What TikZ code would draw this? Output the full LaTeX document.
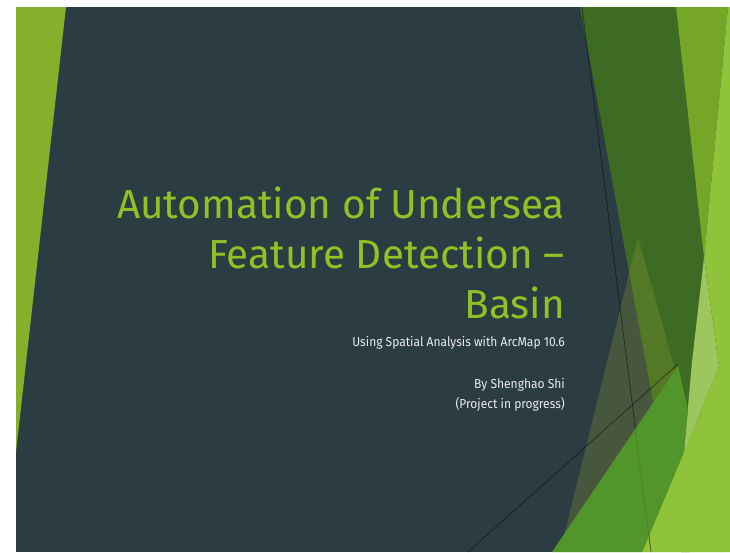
\documentclass[tikz,border=0pt]{standalone}
\usepackage{fontspec}
\setmainfont{Fira Sans}
\newfontfamily\subfont[FakeStretch=0.925]{Fira Sans}
\usepackage{tikz}
\usetikzlibrary{positioning}

\definecolor{slatebg}{HTML}{2C3C43}
\definecolor{facetgreen}{HTML}{90C226}
\definecolor{leafgreen}{HTML}{84B02C}
\definecolor{darkgreen}{HTML}{3E6B24}
\definecolor{lightgreen}{HTML}{76A628}
\definecolor{brightgreen}{HTML}{8EC33A}
\definecolor{palegreen}{HTML}{9DC75E}
\definecolor{midgreen}{HTML}{52952A}
\definecolor{olivetint}{RGB}{140,160,50}
\definecolor{subtext}{HTML}{EBEBEB}

\begin{document}
\begin{tikzpicture}[x=1pt,y=-1pt,
title/.style={font=\fontsize{40.5}{50}\selectfont, text=facetgreen, align=right, inner sep=0pt},
subtitle/.style={font=\subfont\fontsize{13}{17}\selectfont, text=subtext, inner sep=0pt},
hairline/.style={line width=0.8pt, black, opacity=0.45}]

    \useasboundingbox (0,0) rectangle (730,552);
    \fill[white] (0,0) rectangle (730,552);
    \fill[slatebg] (16,7) rectangle (730,552);

    % left facet
    \fill[leafgreen] (16,7) -- (66,7) -- (16,452) -- cycle;

    % right facets
    \fill[darkgreen] (580,7) -- (676,7) -- (704,258) -- (690,552) -- (681,552) -- cycle;
    \fill[olivetint, opacity=0.28] (638,237) -- (560,552) -- (726,552) -- cycle;
    \fill[lightgreen] (676,7) -- (728,7) -- (704,258) -- cycle;
    \fill[brightgreen] (728,7) -- (730,7) -- (730,552) -- (642,552) -- (684,452) -- (719,366) -- (704,258) -- cycle;
    \fill[palegreen] (704,258) -- (719,366) -- (684,452) -- (692,362) -- cycle;

    \draw[hairline] (582,7) -- (651,552);
    \draw[hairline] (468,552) -- (678,364);

    \fill[midgreen] (552,552) -- (678,366) -- (688,410) -- (684,452) -- (642,552) -- cycle;
    \draw[hairline, opacity=0.12] (635,430) -- (651,552);

    % texts
    \node[title, anchor=north east] (title) at (565,187) {Automation of Undersea\\Feature Detection –\\Basin};
    \node[subtitle, anchor=base east] (subtitle) at (565,346) {Using Spatial Analysis with ArcMap 10.6};
    \node[subtitle, anchor=base east] (author) at (565,388) {By Shenghao Shi};
    \node[subtitle, anchor=base east] (status) at (565,408) {(Project in progress)};
\end{tikzpicture}
\end{document}
